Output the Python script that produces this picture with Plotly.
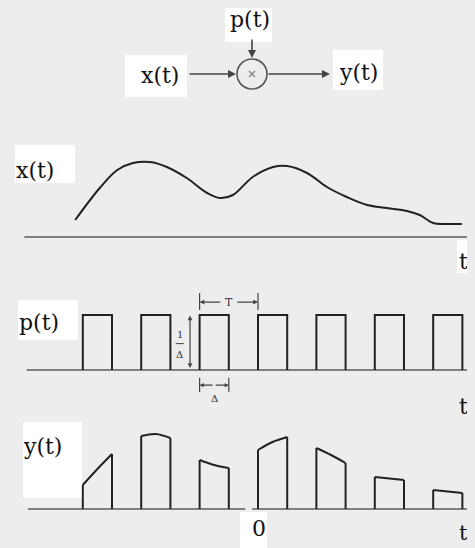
import plotly.graph_objects as go

# ---------------- data ----------------
# x(t) curve samples (t in units of the sampling period T, amplitude arbitrary)
x_t = [-3.13, -2.71, -2.41, -2.14, -1.85, -1.56, -1.22, -0.87, -0.65, -0.43, -0.09,
       0.26, 0.50, 0.84, 1.18, 1.52, 1.87, 2.21, 2.55, 2.77, 3.00, 3.24, 3.49]
x_v = [1.7, 4.9, 6.7, 7.4, 7.5, 7.0, 5.9, 4.4, 3.9, 4.2, 6.0,
       7.0, 7.1, 6.4, 5.0, 4.0, 3.2, 2.9, 2.6, 2.2, 1.4, 1.3, 1.3]

# pulse train p(t)
T = 1.0
DELTA = 0.5
pulse_k = [-3, -2, -1, 0, 1, 2, 3]
p_amp = 1 / DELTA

# sampled output y(t): pulse top heights (left edge, middle, right edge)
y_left = [2.4, 7.3, 4.9, 5.9, 6.1, 3.2, 1.9]
y_mid = [4.0, 7.5, 4.4, 6.7, 5.4, 3.05, 1.75]
y_right = [5.5, 7.1, 4.1, 7.2, 4.6, 2.9, 1.6]

# axis extents (t)
t_min, t_max = -4.281, 3.716
x_base = [-4.0, 3.72]
p_base = [-3.96, 3.72]
y_base_a = [-3.94, -0.22]
y_base_b = [-0.10, 3.72]

# ---------------- layout helpers ----------------
# page body has an 8px margin: the figure occupies page pixels 8..475 x 8..548
OX, OY = 8, 8
W, H = 475 - OX, 548 - OY
def px(x):
    return (x - OX) / W
def py(y):
    return 1 - (y - OY) / H

def panel(top, bottom, base, unit):
    return dict(domain=[max(0.0, py(bottom)), min(1.0, py(top))],
                range=[(base - bottom) / unit, (base - top) / unit])

P1 = panel(130, 280, 237, 10.0)
P2 = panel(280, 420, 370, 27.5)
P3 = panel(420, 548, 509, 10.0)

INK = "#222222"
BASE = "#5a5a5a"
FONT = "DejaVu Serif"
BG = "#ededed"

fig = go.Figure()

# x(t)
fig.add_trace(go.Scatter(x=x_base, y=[0, 0], mode="lines", yaxis="y",
                         line=dict(color=BASE, width=1.6), hoverinfo="skip"))
fig.add_trace(go.Scatter(x=x_t, y=x_v, mode="lines", yaxis="y",
                         line=dict(color=INK, width=2, shape="spline", smoothing=1.0),
                         hoverinfo="skip"))

# p(t)
fig.add_trace(go.Scatter(x=p_base, y=[0, 0], mode="lines", yaxis="y2",
                         line=dict(color=BASE, width=1.6), hoverinfo="skip"))
px_, py_ = [], []
for k in pulse_k:
    s = k * T
    px_ += [s, s, s + DELTA, s + DELTA, None]
    py_ += [0, p_amp, p_amp, 0, None]
fig.add_trace(go.Scatter(x=px_, y=py_, mode="lines", yaxis="y2",
                         line=dict(color=INK, width=2), hoverinfo="skip"))

# y(t)
for seg_ in (y_base_a, y_base_b):
    fig.add_trace(go.Scatter(x=seg_, y=[0, 0], mode="lines", yaxis="y3",
                             line=dict(color=BASE, width=1.6), hoverinfo="skip"))
sx, sy, tx, ty = [], [], [], []
for k, l, m, r in zip(pulse_k, y_left, y_mid, y_right):
    s = k * T
    sx += [s, s, None, s + DELTA, s + DELTA, None]
    sy += [0, l, None, r, 0, None]
    tx += [s, s + DELTA / 2, s + DELTA, None]
    ty += [l, m, r, None]
fig.add_trace(go.Scatter(x=sx, y=sy, mode="lines", yaxis="y3",
                         line=dict(color=INK, width=2), hoverinfo="skip"))
fig.add_trace(go.Scatter(x=tx, y=ty, mode="lines", yaxis="y3",
                         line=dict(color=INK, width=2, shape="spline"), hoverinfo="skip"))

shapes = []
annotations = []

def white_box(x0, y0, x1, y1):
    shapes.append(dict(type="rect", xref="paper", yref="paper",
                       x0=px(x0), x1=px(x1), y0=py(y1), y1=py(y0),
                       fillcolor="white", line=dict(width=0), layer="below"))

def label(text, x, y, size=22, xanchor="center"):
    annotations.append(dict(text=text, x=px(x), y=py(y), xref="paper", yref="paper",
                            showarrow=False, xanchor=xanchor, yanchor="middle",
                            font=dict(family=FONT, size=size, color="#111111")))

def seg(x0, y0, x1, y1, color="#444444", width=1.2):
    shapes.append(dict(type="line", xref="paper", yref="paper",
                       x0=px(x0), x1=px(x1), y0=py(y0), y1=py(y1),
                       line=dict(color=color, width=width)))

# white label backgrounds
white_box(125, 55, 187, 97)
white_box(225, 8, 272, 42)
white_box(333, 50, 383, 90)
white_box(15, 145, 75, 183)
white_box(457, 240, 475, 273)
white_box(18, 300, 78, 340)
white_box(23, 422, 82, 498)
white_box(240, 512, 267, 548)

# block diagram
label("x(t)", 160, 76)
label("p(t)", 250, 19)
label("y(t)", 358, 73)
shapes.append(dict(type="circle", xref="paper", yref="paper",
                   x0=px(237), x1=px(267), y0=py(89), y1=py(59),
                   line=dict(color="#555555", width=1.6)))
seg(249, 71, 255, 77, color="#888888", width=1.5)
seg(249, 77, 255, 71, color="#888888", width=1.5)
for (x0, y0, x1, y1) in [(188, 74, 236, 74), (267, 74, 330, 74), (252, 38, 252, 58)]:
    annotations.append(dict(text="", x=px(x1), y=py(y1), ax=x0 - x1, ay=y0 - y1,
                            xref="paper", yref="paper", showarrow=True,
                            arrowhead=2, arrowsize=1.0, arrowwidth=1.6,
                            arrowcolor="#444444"))

# panel labels
label("x(t)", 14, 170, xanchor="left")
label("p(t)", 17, 322, xanchor="left")
label("y(t)", 21, 446, xanchor="left")
label("t", 463, 262)
label("t", 463, 406)
label("t", 463, 533, size=21)
label("0", 259, 528)

# T bracket (p panel, data coords)
TY = 2.47
for tk in (-1.0, 0.0):
    shapes.append(dict(type="line", xref="x", yref="y2", x0=tk, x1=tk,
                       y0=2.18, y1=2.80, line=dict(color="#444444", width=1.2)))
annotations.append(dict(text="T", x=-0.5, y=TY, xref="x", yref="y2", showarrow=False,
                        font=dict(family=FONT, size=11, color="#333333")))
for tip, tail in ((-1.0, -0.62), (0.0, -0.38)):
    annotations.append(dict(text="", x=tip, y=TY, ax=tail, ay=TY, xref="x", yref="y2",
                            axref="x", ayref="y2", showarrow=True, arrowhead=2,
                            arrowsize=0.8, arrowwidth=1.2, arrowcolor="#444444"))

# 1/Δ height marker
annotations.append(dict(text="", x=-1.164, y=p_amp - 0.02, ax=-1.164, ay=0.02,
                        xref="x", yref="y2", axref="x", ayref="y2", showarrow=True,
                        arrowhead=2, startarrowhead=2, arrowside="end+start",
                        arrowsize=0.8, arrowwidth=1.2, arrowcolor="#444444"))
annotations.append(dict(text="1", x=-1.34, y=1.30, xref="x", yref="y2", showarrow=False,
                        font=dict(family=FONT, size=10, color="#333333")))
annotations.append(dict(text="Δ", x=-1.34, y=0.58, xref="x", yref="y2", showarrow=False,
                        font=dict(family=FONT, size=10, color="#333333")))
shapes.append(dict(type="line", xref="x", yref="y2", x0=-1.41, x1=-1.27,
                   y0=0.96, y1=0.96, line=dict(color="#444444", width=1)))

# Δ width marker
DY = -0.55
for tk in (-1.0, -1.0 + DELTA):
    shapes.append(dict(type="line", xref="x", yref="y2", x0=tk, x1=tk,
                       y0=-0.28, y1=-0.80, line=dict(color="#444444", width=1.2)))
for tip, tail in ((-1.0, -0.75), (-0.5, -0.75)):
    annotations.append(dict(text="", x=tip, y=DY, ax=tail, ay=DY, xref="x", yref="y2",
                            axref="x", ayref="y2", showarrow=True, arrowhead=2,
                            arrowsize=0.7, arrowwidth=1.2, arrowcolor="#444444"))
annotations.append(dict(text="Δ", x=-0.75, y=-1.03, xref="x", yref="y2", showarrow=False,
                        font=dict(family=FONT, size=10, color="#333333")))

ax_common = dict(visible=False, fixedrange=True, showgrid=False, zeroline=False)
fig.update_layout(
    width=W, height=H,
    margin=dict(l=0, r=0, t=0, b=0),
    paper_bgcolor=BG, plot_bgcolor="rgba(0,0,0,0)",
    showlegend=False,
    xaxis=dict(range=[t_min, t_max], domain=[0, 1], anchor="y3", **ax_common),
    yaxis=dict(anchor="x", **P1, **ax_common),
    yaxis2=dict(anchor="x", **P2, **ax_common),
    yaxis3=dict(anchor="x", **P3, **ax_common),
    shapes=shapes,
    annotations=annotations,
)

fig.write_html("out.html", config={"displayModeBar": False, "staticPlot": True},
               post_script="document.body.style.background='%s';" % BG)
